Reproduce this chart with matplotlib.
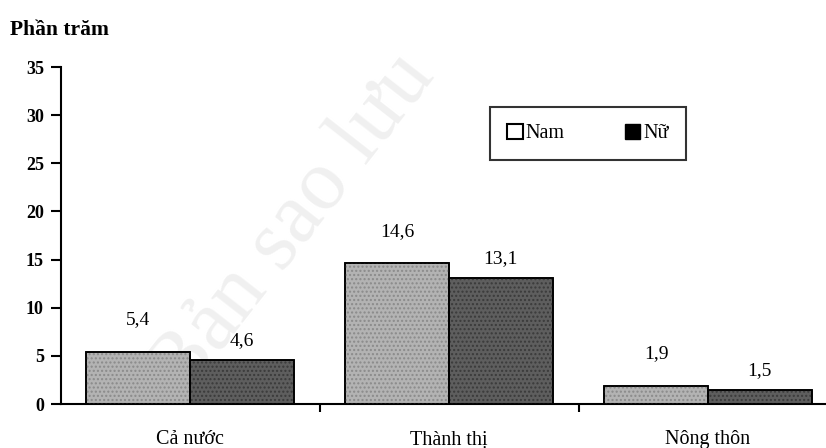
import matplotlib.pyplot as plt
import numpy as np
from matplotlib.patches import Patch

categories = ["Cả nước", "Thành thị", "Nông thôn"]
nam = [5.4, 14.6, 1.9]
nu = [4.6, 13.1, 1.5]
nam_labels = ["5,4", "14,6", "1,9"]
nu_labels = ["4,6", "13,1", "1,5"]
yticks = [0, 5, 10, 15, 20, 25, 30, 35]

plt.rcParams['font.family'] = ['Liberation Serif', 'DejaVu Serif']

fig = plt.figure(figsize=(8.26, 4.48), dpi=100)
ax = fig.add_axes([60.5/826, 44/448, 777/826, 337/448])

# faint watermark from the scan, behind the bars
ax.text(0.30, 0.53, "Bản sao lưu", transform=ax.transAxes, fontsize=62, rotation=52,
        color="#f0f0f0", ha="center", va="center", zorder=1, clip_on=False)

x = np.arange(len(categories))
w = 0.40
ax.bar(x - w/2, nam, w, color="#b3b3b3", edgecolor="black", linewidth=1.2, zorder=2)
ax.bar(x + w/2, nu, w, color="#5e5e5e", edgecolor="black", linewidth=1.2, zorder=2)
# speckle texture
ax.bar(x - w/2, nam, w, color="none", edgecolor="#8a8a8a", linewidth=0, hatch="....", zorder=3)
ax.bar(x + w/2, nu, w, color="none", edgecolor="#3a3a3a", linewidth=0, hatch="....", zorder=3)
ax.bar(x - w/2, nam, w, color="none", edgecolor="black", linewidth=1.2, zorder=4)
ax.bar(x + w/2, nu, w, color="none", edgecolor="black", linewidth=1.2, zorder=4)

for i in range(len(categories)):
    ax.annotate(nam_labels[i], (x[i] - w/2, nam[i]), xytext=(0, 23), textcoords="offset points",
                ha="center", va="center", fontsize=14)
    ax.annotate(nu_labels[i], (x[i] + w/2, nu[i]), xytext=(0, 14), textcoords="offset points",
                ha="center", va="center", fontsize=14)

ax.set_xlim(-0.5, 2.5)
ax.set_ylim(0, 35)
ax.set_yticks(yticks)
ax.set_yticklabels([str(v) for v in yticks], fontweight="bold", fontsize=13)
ax.set_xticks(x)
ax.set_xticklabels(categories, fontsize=14.5)
ax.tick_params(axis="x", length=0, pad=19)
ax.set_xticks([0.5, 1.5], minor=True)
ax.tick_params(axis="x", which="minor", length=6, width=1.5, direction="out")
ax.tick_params(axis="y", length=7, width=1.5, direction="out", pad=5)

for s in ["top", "right"]:
    ax.spines[s].set_visible(False)
ax.spines["left"].set_linewidth(1.5)
ax.spines["bottom"].set_linewidth(1.5)
ax.set_facecolor("none")

fig.text(10/826, 1 - 30/448, "Phần trăm", fontsize=15.5, fontweight="bold", va="center", ha="left")

handles = [Patch(facecolor="white", edgecolor="black", linewidth=1.5),
           Patch(facecolor="black", edgecolor="black")]
leg = ax.legend(handles, ["Nam", "Nữ"], ncol=2, loc="center",
                bbox_to_anchor=(588/826, 1 - 133.5/448), bbox_transform=fig.transFigure,
                fontsize=14.5, frameon=True, fancybox=False, handlelength=0.75, handleheight=0.75,
                handletextpad=0.15, columnspacing=3.0, borderpad=0.85, borderaxespad=0)
leg.get_frame().set_edgecolor("black")
leg.get_frame().set_linewidth(1.5)

fig.savefig("out.png", dpi=100)
